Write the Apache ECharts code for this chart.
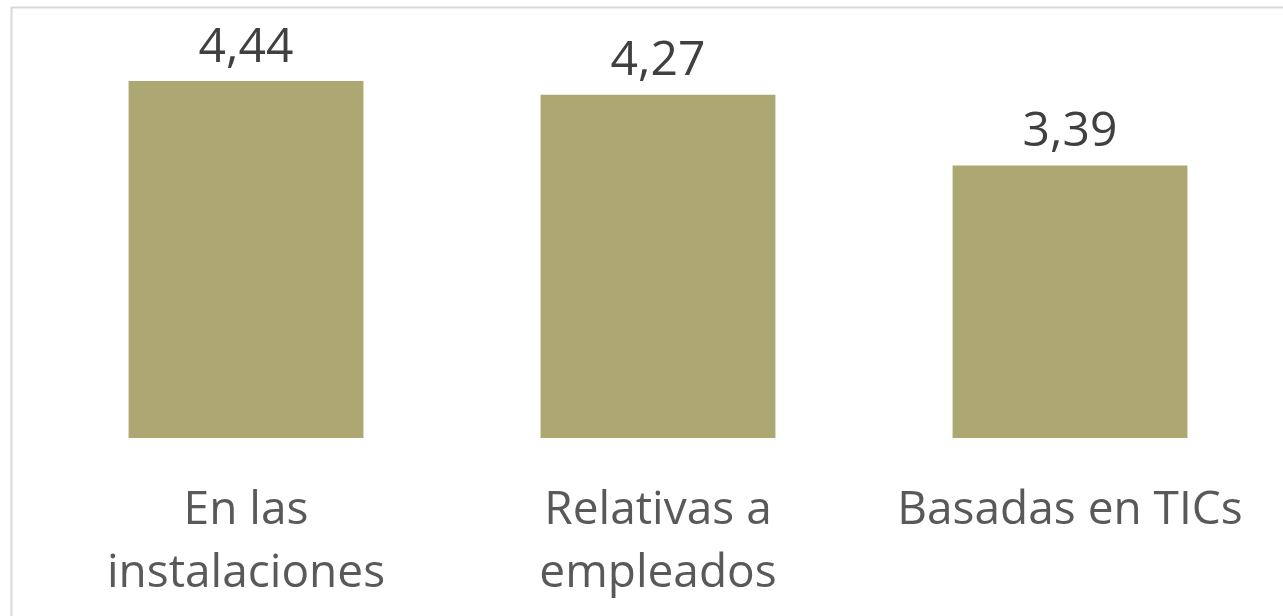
<!DOCTYPE html>
<html><head><meta charset="utf-8">
<script src="https://cdn.jsdelivr.net/npm/echarts@6/dist/echarts.min.js"></script>
<style>html,body{margin:0;padding:0;background:#fff}#c{width:1283px;height:616px}</style>
</head><body><div id="c"></div>
<script>
const categories = ['En las\ninstalaciones', 'Relativas a\nempleados', 'Basadas en TICs'];
const values = [4.44, 4.27, 3.39];

const chart = echarts.init(document.getElementById('c'), null, {renderer: 'canvas'});
chart.setOption({
  animation: false,
  graphic: [{
    type: 'rect', shape: {x: 11.5, y: 7.5, width: 1300, height: 650},
    style: {fill: 'none', stroke: '#d9d9d9', lineWidth: 2}, z: -1
  }],
  grid: {left: 40, right: 7, top: 36, bottom: 178},
  xAxis: {
    type: 'category', data: categories,
    axisLine: {show: false}, axisTick: {show: false},
    axisLabel: {fontFamily: 'Open Sans', fontSize: 46, color: '#595959', lineHeight: 63, margin: 41, interval: 0}
  },
  yAxis: {type: 'value', min: 0, max: 5, show: false, splitLine: {show: false}},
  series: [{
    type: 'bar', data: values, barCategoryGap: '43%',
    itemStyle: {color: '#ada872'},
    label: {
      show: true, position: 'top', distance: 9,
      fontFamily: 'Open Sans', fontSize: 48, color: '#404040',
      formatter: p => p.value.toFixed(2).replace('.', ',')
    }
  }]
});
</script></body></html>
